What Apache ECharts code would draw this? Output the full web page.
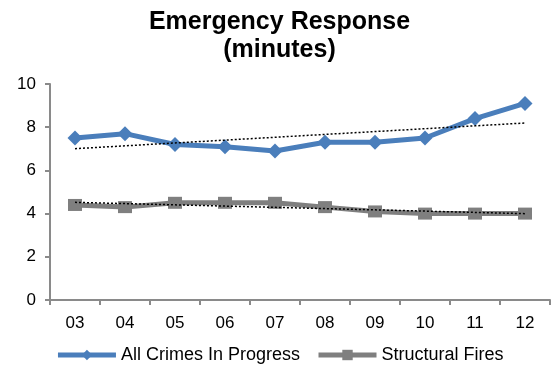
<!DOCTYPE html>
<html>
<head>
<meta charset="utf-8">
<style>
  html, body { margin: 0; padding: 0; background: #fff; }
  #chart { width: 559px; height: 369px; }
</style>
<script src="https://cdn.jsdelivr.net/npm/echarts@6/dist/echarts.min.js"></script>
</head>
<body>
<div id="chart"></div>
<script>
// Fiscal years on the category axis
var years = ['03', '04', '05', '06', '07', '08', '09', '10', '11', '12'];
// Average response times in minutes
var crimesInProgress = [7.5, 7.7, 7.2, 7.1, 6.9, 7.3, 7.3, 7.5, 8.4, 9.1];
var structuralFires = [4.4, 4.3, 4.5, 4.5, 4.5, 4.3, 4.1, 4.0, 4.0, 4.0];
// Value axis
var yMin = 0, yMax = 10, yStep = 2;

// Least-squares linear trend over the category index
function linearTrend(values) {
  var n = values.length, sx = 0, sy = 0, sxy = 0, sxx = 0;
  for (var i = 0; i < n; i++) {
    sx += i; sy += values[i]; sxy += i * values[i]; sxx += i * i;
  }
  var slope = (n * sxy - sx * sy) / (n * sxx - sx * sx);
  var intercept = (sy - slope * sx) / n;
  return values.map(function (_, i) { return +(intercept + slope * i).toFixed(4); });
}

var font = 'Arial, "Liberation Sans", sans-serif';
var axisColor = '#8a8a8a';
var blue = '#4a7ebb';
var gray = '#7f7f7f';

var chart = echarts.init(document.getElementById('chart'), null, { renderer: 'canvas' });
chart.setOption({
  animation: false,
  backgroundColor: '#ffffff',
  title: {
    text: 'Emergency Response\n(minutes)',
    left: 'center',
    top: 3,
    textStyle: { fontFamily: font, fontWeight: 'bold', fontSize: 25, lineHeight: 28, color: '#000' }
  },
  legend: {
    data: ['All Crimes In Progress', 'Structural Fires'],
    bottom: 0,
    left: 'center',
    itemWidth: 58,
    itemHeight: 13,
    itemGap: 16,
    lineStyle: { width: 5 },
    textStyle: { fontFamily: font, fontSize: 18, color: '#000' }
  },
  grid: { left: 50, right: 9, top: 84, bottom: 69, containLabel: false },
  xAxis: {
    type: 'category',
    data: years,
    boundaryGap: true,
    axisLine: { lineStyle: { color: axisColor, width: 2 } },
    axisTick: { show: true, length: 5, lineStyle: { color: axisColor, width: 2 } },
    axisLabel: { fontFamily: font, fontSize: 17, color: '#000', margin: 15 },
    splitLine: { show: false }
  },
  yAxis: {
    type: 'value',
    min: yMin, max: yMax, interval: yStep,
    axisLine: { show: true, lineStyle: { color: axisColor, width: 2 } },
    axisTick: { show: true, length: 5, lineStyle: { color: axisColor, width: 2 } },
    axisLabel: { fontFamily: font, fontSize: 17, color: '#000', margin: 14 },
    splitLine: { show: false }
  },
  series: [
    {
      name: 'All Crimes In Progress',
      type: 'line',
      data: crimesInProgress,
      symbol: 'diamond',
      symbolSize: 15,
      itemStyle: { color: blue },
      lineStyle: { color: blue, width: 5 },
      z: 3
    },
    {
      name: 'Structural Fires',
      type: 'line',
      data: structuralFires,
      symbol: 'rect',
      symbolSize: [14, 12],
      itemStyle: { color: gray },
      lineStyle: { color: gray, width: 5 },
      z: 2
    },
    {
      name: 'Crimes trend',
      type: 'line',
      data: linearTrend(crimesInProgress),
      symbol: 'none',
      silent: true,
      lineStyle: { color: '#000', width: 1.5, type: [2, 2] },
      z: 5
    },
    {
      name: 'Fires trend',
      type: 'line',
      data: linearTrend(structuralFires),
      symbol: 'none',
      silent: true,
      lineStyle: { color: '#000', width: 1.5, type: [2, 2] },
      z: 5
    }
  ]
});
</script>
</body>
</html>
